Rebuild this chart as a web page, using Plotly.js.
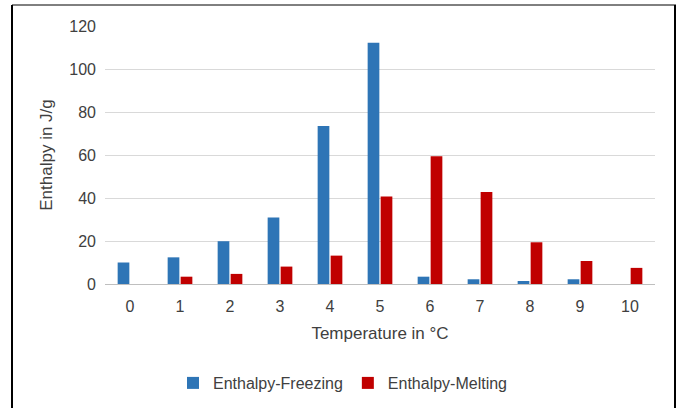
<!DOCTYPE html>
<html>
<head>
<meta charset="utf-8">
<script src="https://cdn.plot.ly/plotly-3.0.1.min.js"></script>
<style>html,body{margin:0;padding:0;background:#fff;}#chart{width:678px;height:408px;}</style>
</head>
<body>
<div id="chart"></div>
<script>
const temperatures = ["0","1","2","3","4","5","6","7","8","9","10"];
const enthalpyFreezing = [10, 12.4, 19.9, 30.9, 73.5, 112.2, 3.4, 2.2, 1.4, 2.2, null];
const enthalpyMelting = [null, 3.4, 4.7, 8.1, 13.2, 40.7, 59.4, 42.8, 19.4, 10.7, 7.5];
const yTicks = [0, 20, 40, 60, 80, 100, 120];

const W = 678, H = 408, L = 105, R = 23, T = 26, B = 124;
const pw = W - L - R, ph = H - T - B;
const px = x => (x - L) / pw;
const py = y => (H - B - y) / ph;

const data = [
  {type: 'bar', name: 'Enthalpy-Freezing', x: temperatures, y: enthalpyFreezing,
   marker: {color: '#2e75b6', line: {width: 0}}},
  {type: 'bar', name: 'Enthalpy-Melting', x: temperatures, y: enthalpyMelting,
   marker: {color: '#c00000', line: {width: 0}}}
];
const layout = {
  width: W, height: H,
  margin: {l: L, r: R, t: T, b: B, autoexpand: false},
  paper_bgcolor: '#fff', plot_bgcolor: '#fff',
  font: {family: 'Liberation Sans, Arial, sans-serif', size: 16, color: '#404040'},
  barmode: 'group', bargap: 0.48, bargroupgap: 0.1,
  showlegend: true,
  legend: {orientation: 'h', xref: 'container', yref: 'container',
           x: 343 / W, xanchor: 'center', y: 1 - 383 / H, yanchor: 'middle',
           font: {size: 16, color: '#404040'}, itemwidth: 30, traceorder: 'normal'},
  xaxis: {type: 'category', showgrid: false, showline: true, linecolor: '#bfbfbf', linewidth: 1,
          ticks: '', tickfont: {size: 16}, ticklabelstandoff: 8,
          title: {text: 'Temperature in °C', font: {size: 17, color: '#404040'}, standoff: 12}},
  yaxis: {range: [0, 120], tickvals: yTicks, ticktext: yTicks.map(String), showgrid: true,
          gridcolor: '#d9d9d9', gridwidth: 1, zeroline: false, showline: false, ticks: '',
          tickfont: {size: 16}, ticklabelstandoff: 8,
          title: {text: 'Enthalpy in J/g', font: {size: 17, color: '#404040'}, standoff: 12}},
  shapes: [
    {type: 'line', xref: 'paper', yref: 'paper', x0: px(12), x1: px(12), y0: py(5), y1: py(412), line: {color: '#000', width: 2}},
    {type: 'line', xref: 'paper', yref: 'paper', x0: px(12), x1: px(676), y0: py(5), y1: py(5), line: {color: '#000', width: 1}},
    {type: 'line', xref: 'paper', yref: 'paper', x0: px(675), x1: px(675), y0: py(5), y1: py(412), line: {color: '#000', width: 2}}
  ]
};
Plotly.newPlot('chart', data, layout, {displayModeBar: false, staticPlot: true});
</script>
</body>
</html>
